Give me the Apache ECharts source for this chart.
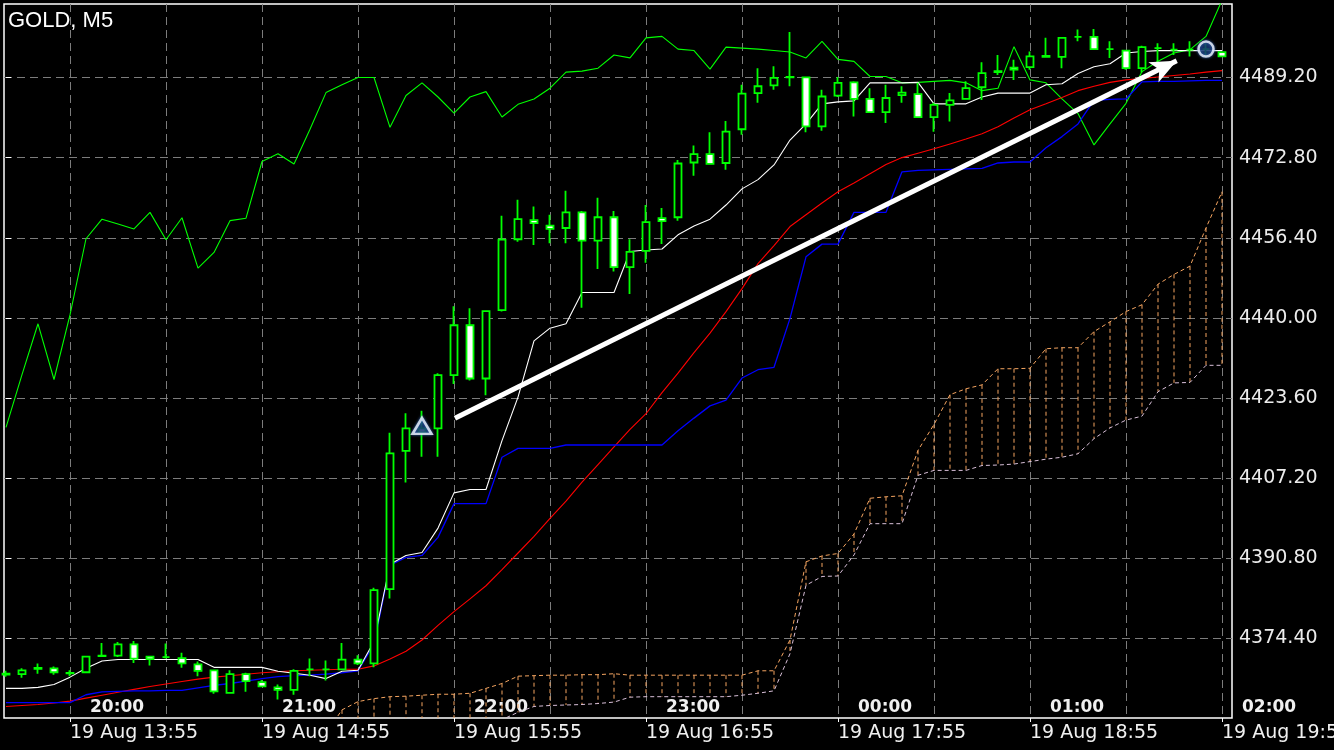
<!DOCTYPE html>
<html>
<head>
<meta charset="utf-8">
<script src="https://cdn.jsdelivr.net/npm/echarts@6/dist/echarts.min.js"></script>
<style>
html,body{margin:0;padding:0;background:#000;}
#chart{width:1334px;height:750px;}
</style>
</head>
<body>
<div id="chart"></div>
<script>
// ---- data (index = candle number, M5 bars) ----
const opens = [4367.2,4367.1,4368.2,4368.3,4367.35,4367.5,4370.8,4370.9,4373.2,4370.7,4370.6,4370.4,4369.1,4367.9,4363.3,4367.1,4365.5,4364.4,4363.9,4368.1,4368.1,4368.1,4370.1,4369.3,4384.5,4412.8,4417.4,4417.4,4428.3,4438.5,4427.6,4441.6,4456.1,4460.0,4458.9,4458.4,4461.6,4455.8,4460.6,4450.4,4453.7,4460.4,4460.6,4471.8,4473.5,4471.7,4478.6,4486.0,4487.6,4489.3,4489.2,4479.2,4485.5,4488.2,4484.8,4482.1,4485.6,4485.8,4481.1,4483.6,4484.8,4487.2,4490.5,4491.2,4491.3,4493.6,4493.4,4497.5,4497.5,4495.0,4494.7,4491.1,4495.2,4494.9,4494.9,4495.0,4494.4];
const closes = [4367.0,4367.9,4368.4,4367.5,4367.3,4370.7,4370.9,4373.2,4370.3,4370.2,4370.6,4369.3,4367.8,4363.6,4367.1,4365.7,4364.6,4363.9,4367.8,4368.1,4368.1,4370.1,4369.3,4384.3,4412.3,4417.4,4416.6,4428.3,4438.5,4427.6,4441.4,4456.0,4460.2,4459.4,4458.2,4461.6,4455.8,4460.6,4450.4,4453.5,4459.6,4459.8,4471.6,4473.5,4471.5,4478.1,4485.9,4487.4,4489.1,4489.2,4479.2,4485.3,4488.1,4484.8,4482.1,4485.0,4486.1,4481.1,4483.6,4484.5,4487.0,4490.1,4490.3,4490.8,4493.5,4493.4,4497.3,4497.5,4495.0,4495.0,4491.1,4495.4,4495.2,4494.9,4494.9,4495.0,4493.5];
const lows = [4366.6,4366.4,4367.2,4367.0,4366.7,4367.4,4370.6,4370.6,4369.4,4368.9,4370.3,4368.4,4366.7,4363.1,4363.3,4363.5,4364.5,4361.9,4362.9,4366.7,4365.8,4368.0,4369.0,4368.5,4382.6,4406.3,4411.6,4411.6,4426.5,4427.2,4424.2,4441.3,4455.6,4454.9,4455.3,4455.3,4442.1,4450.0,4449.5,4444.9,4451.3,4455.1,4459.9,4469.1,4471.4,4470.3,4477.5,4484.0,4486.7,4487.4,4478.0,4478.3,4485.2,4481.2,4482.0,4479.9,4484.0,4481.0,4478.1,4480.2,4484.7,4484.6,4489.7,4488.7,4490.8,4493.3,4491.1,4496.6,4495.0,4493.2,4490.8,4490.2,4492.1,4493.8,4493.5,4493.5,4493.5];
const highs = [4367.8,4368.3,4369.3,4368.7,4367.9,4370.8,4373.5,4373.7,4373.9,4370.9,4373.4,4371.5,4369.7,4368.0,4367.9,4367.4,4365.9,4365.0,4368.1,4370.3,4369.9,4373.5,4371.0,4384.8,4416.5,4420.5,4421.0,4428.7,4442.4,4442.0,4441.5,4460.9,4464.2,4462.8,4461.1,4466.0,4461.9,4464.6,4461.9,4456.1,4463.1,4462.5,4472.3,4475.3,4478.0,4480.3,4487.7,4491.1,4491.5,4498.5,4489.3,4486.7,4489.3,4488.4,4487.0,4487.7,4487.4,4488.1,4484.0,4486.0,4488.4,4492.3,4493.8,4492.8,4494.5,4497.3,4497.4,4499.0,4499.1,4496.6,4494.8,4495.7,4496.2,4496.2,4496.6,4496.2,4494.4];

const whiteLine = [4364.2,4364.2,4364.4,4365.0,4366.5,4368.3,4369.8,4370.1,4370.1,4370.1,4370.1,4370.1,4370.1,4368.5,4368.5,4368.5,4368.5,4367.7,4367.3,4366.9,4366.2,4367.7,4367.9,4373.8,4389.6,4391.4,4392.0,4397.0,4404.2,4404.9,4404.9,4414.9,4423.8,4435.3,4437.9,4438.8,4445.2,4445.2,4445.2,4453.6,4453.9,4454.1,4457.0,4458.8,4460.2,4463.1,4466.4,4468.3,4471.3,4476.4,4479.7,4483.8,4484.2,4484.4,4488.1,4488.1,4488.1,4488.2,4483.8,4483.8,4483.8,4485.2,4486.0,4486.0,4486.0,4487.7,4487.9,4490.0,4491.4,4492.0,4494.2,4494.5,4494.7,4494.7,4494.7,4494.7,4494.7];
const blueLine = [4361.3,4361.3,4361.3,4361.3,4361.3,4362.9,4363.5,4363.6,4363.7,4363.7,4363.8,4363.8,4364.3,4364.8,4365.2,4365.7,4366.2,4366.6,4366.8,4366.9,4367.1,4367.4,4367.8,4373.2,4389.4,4391.0,4391.4,4395.1,4402.0,4402.0,4402.0,4411.5,4413.3,4413.3,4413.3,4414.0,4414.0,4414.0,4414.0,4414.0,4414.0,4414.0,4416.9,4419.5,4422.0,4423.2,4427.7,4429.4,4429.9,4439.9,4452.5,4455.1,4455.1,4461.6,4461.6,4461.6,4469.9,4470.2,4470.3,4470.4,4470.5,4470.6,4471.7,4471.9,4471.9,4474.8,4477.1,4479.7,4484.5,4484.7,4484.8,4488.3,4488.4,4488.4,4488.5,4488.6,4488.6];
const redLine = [4360.5,4360.7,4360.9,4361.2,4361.6,4362.2,4362.8,4363.4,4364.0,4364.6,4365.1,4365.6,4366.1,4366.5,4366.8,4367.1,4367.4,4367.6,4367.8,4367.9,4368.0,4368.1,4368.1,4368.8,4370.2,4371.8,4374.1,4377.1,4379.9,4382.5,4385.2,4388.5,4391.9,4395.3,4399.0,4402.5,4406.4,4410.0,4413.6,4417.2,4420.4,4424.7,4428.7,4432.9,4436.9,4441.3,4446.0,4451.1,4454.8,4458.7,4461.1,4463.5,4465.8,4467.6,4469.5,4471.4,4472.8,4473.7,4474.6,4475.6,4476.6,4477.7,4479.1,4480.9,4482.6,4483.8,4485.1,4486.5,4487.4,4488.2,4488.7,4489.0,4489.3,4489.6,4489.9,4490.3,4490.6];
const greenLine = [4417.6,4428.4,4438.8,4427.4,4440.6,4456.2,4460.2,4459.2,4458.2,4461.6,4456.0,4460.5,4450.2,4453.4,4459.9,4460.4,4472.0,4473.6,4471.5,4478.6,4486.1,4487.7,4489.2,4489.2,4479.0,4485.5,4488.1,4485.2,4481.9,4485.2,4486.3,4481.1,4483.7,4484.8,4487.0,4490.3,4490.5,4491.1,4493.8,4493.2,4497.3,4497.6,4495.0,4494.7,4490.9,4495.4,4495.2,4495.0,4494.7,4494.4,4493.2,4496.6,4492.9,4492.5,4489.4,4489.4,4488.1,4488.2,4488.4,4488.6,4488.1,4486.5,4487.0,4495.5,4488.7,4488.1,4484.8,4481.8,4475.4,4479.7,4483.9,4490.4,4492.5,4494.2,4494.9,4497.6,4505.0];

// Cloud spans start at candle 20
const cloudStart = 20;
const spanA = [4355.0,4359.8,4361.5,4362.1,4362.5,4362.6,4362.8,4363.0,4363.0,4363.2,4364.2,4365.2,4366.7,4366.8,4366.9,4366.9,4367.0,4367.0,4367.2,4366.9,4366.9,4366.9,4366.9,4366.9,4366.9,4366.9,4366.9,4367.8,4367.8,4374.1,4390.1,4391.3,4391.8,4395.8,4403.1,4403.4,4403.6,4412.9,4418.2,4424.3,4425.5,4426.3,4429.6,4429.6,4429.7,4433.7,4433.9,4433.9,4437.2,4439.2,4441.3,4442.7,4446.9,4448.9,4450.6,4458.4,4465.8];
const spanB = [4354.0,4354.5,4355.0,4355.3,4355.6,4355.8,4356.0,4356.2,4356.4,4356.6,4357.0,4357.8,4359.3,4360.5,4360.7,4360.8,4360.9,4361.1,4361.4,4362.4,4362.5,4362.5,4362.5,4362.5,4362.5,4362.5,4362.8,4363.2,4363.7,4371.3,4385.3,4387.1,4387.2,4391.5,4397.9,4397.9,4397.9,4407.8,4408.8,4408.8,4408.8,4409.8,4409.9,4410.1,4410.6,4411.1,4411.5,4412.2,4415.3,4417.5,4419.1,4419.9,4424.9,4426.7,4426.8,4430.3,4430.3];

const buySignal = [26, 4417.9];
const closeSignal = [75, 4495.0];
const trendArrow = [[28.06, 4419.45], [73.17, 4492.6]];

const priceTicks = [4374.4, 4390.8, 4407.2, 4423.6, 4440.0, 4456.4, 4472.8, 4489.2];
const gridIdx = [4,10,16,22,28,34,40,46,52,58,64,70,76];
const labelIdx = [4,16,28,40,52,64,76];
const dateLabels = ['19 Aug 13:55','19 Aug 14:55','19 Aug 15:55','19 Aug 16:55','19 Aug 17:55','19 Aug 18:55','19 Aug 19:55'];
const hourLabels = ['20:00','21:00','22:00','23:00','00:00','01:00','02:00'];

// ---- build series data ----
const candleData = opens.map((o, i) => [i, o, closes[i], lows[i], highs[i]]);
const toXY = arr => arr.map((v, i) => [i, v]);
const aData = spanA.map((v, k) => [k + cloudStart, v]);
const bData = spanB.map((v, k) => [k + cloudStart, v]);
const hatchData = spanA.map((v, k) => [k + cloudStart, v, spanB[k]]);

const chart = echarts.init(document.getElementById('chart'));
const gridStyle = {color: '#7c7c7c', width: 1, type: [8, 5]};
const lookup = (labels) => (v) => { const k = labelIdx.indexOf(Math.round(v)); return k >= 0 ? labels[k] : ''; };

chart.setOption({
  animation: false,
  backgroundColor: '#000000',
  title: {
    text: 'GOLD, M5', left: 3, top: 5,
    textStyle: {color: '#ffffff', fontSize: 22, fontWeight: 'normal', fontFamily: 'Liberation Sans'}
  },
  grid: {left: 4, right: 102, top: 4, bottom: 32, show: true, borderColor: '#ffffff', borderWidth: 1.5,
         containLabel: false, outerBoundsMode: 'none'},
  xAxis: [
    {
      type: 'value', min: -0.125, max: 76.625,
      axisLine: {show: false},
      axisTick: {show: true, customValues: labelIdx, length: 4, lineStyle: {color: '#ffffff'}},
      splitLine: {show: false},
      axisLabel: {
        customValues: labelIdx, formatter: lookup(dateLabels), align: 'left', margin: 6,
        color: '#f0f0f0', fontSize: 19, fontFamily: 'DejaVu Sans'
      }
    },
    {
      type: 'value', min: -0.125, max: 76.625, position: 'bottom',
      axisLine: {show: false},
      axisTick: {show: false, customValues: gridIdx},
      splitLine: {show: true, lineStyle: gridStyle},
      axisLabel: {
        inside: true, customValues: labelIdx, formatter: lookup(hourLabels), align: 'left',
        padding: [0, 0, 0, 20], margin: 2,
        color: '#f0f0f0', fontSize: 17, fontWeight: 'bold', fontFamily: 'DejaVu Sans'
      }
    }
  ],
  yAxis: {
    type: 'value', position: 'right', min: 4358.14, max: 4504.23, scale: true,
    axisLine: {show: false},
    axisTick: {show: true, customValues: priceTicks, length: 5, lineStyle: {color: '#ffffff'}},
    splitLine: {show: true, lineStyle: gridStyle},
    axisLabel: {
      customValues: priceTicks, formatter: v => v.toFixed(2), margin: 7,
      color: '#ececec', fontSize: 19, fontFamily: 'DejaVu Sans'
    }
  },
  series: [
    {
      type: 'custom', name: 'cloud', xAxisIndex: 0, z: 1,
      data: hatchData, encode: {x: 0, y: [1, 2]},
      renderItem: function (params, api) {
        const x = api.value(0);
        const p1 = api.coord([x, api.value(1)]);
        const p2 = api.coord([x, api.value(2)]);
        const cs = params.coordSys;
        const top = cs.y, bot = cs.y + cs.height;
        const y1 = Math.min(Math.max(p1[1], top), bot);
        const y2 = Math.min(Math.max(p2[1], top), bot);
        if (Math.abs(y1 - y2) < 0.5) return null;
        return {type: 'line', shape: {x1: p1[0], y1: y1, x2: p1[0], y2: y2},
                style: {stroke: '#f4a460', lineWidth: 1, lineDash: [4, 3]}};
      }
    },
    {type: 'line', name: 'Senkou A', data: aData, symbol: 'none', z: 1,
     lineStyle: {color: '#f4a460', width: 1, type: [4, 3]}},
    {type: 'line', name: 'Senkou B', data: bData, symbol: 'none', z: 1,
     lineStyle: {color: '#d8bfd8', width: 1, type: [4, 3]}},
    {type: 'line', name: 'green', data: toXY(greenLine), symbol: 'none', z: 2,
     lineStyle: {color: '#00ff00', width: 1.1}},
    {type: 'line', name: 'red', data: toXY(redLine), symbol: 'none', z: 2,
     lineStyle: {color: '#ff0000', width: 1.1}},
    {type: 'line', name: 'blue', data: toXY(blueLine), symbol: 'none', z: 2,
     lineStyle: {color: '#0000ff', width: 1.3}},
    {type: 'line', name: 'white', data: toXY(whiteLine), symbol: 'none', z: 2,
     lineStyle: {color: '#ffffff', width: 1.1}},
    {
      type: 'candlestick', name: 'GOLD', data: candleData, z: 3,
      encode: {x: 0, y: [1, 2, 3, 4]},
      barWidth: 7,
      itemStyle: {color: '#000000', color0: '#ffffff', borderColor: '#00ff00', borderColor0: '#00ff00',
                  borderColorDoji: '#00ff00', borderWidth: 1.8}
    },
    {
      type: 'scatter', name: 'signals', z: 5,
      data: [
        {value: buySignal, symbol: 'triangle', symbolSize: [19, 16]},
        {value: closeSignal, symbol: 'circle', symbolSize: 15}
      ],
      itemStyle: {color: 'rgba(8,34,84,0.8)', borderColor: '#f2f6ff', borderWidth: 2.5,
                  shadowColor: '#3f74c8', shadowBlur: 3},
      markLine: {
        silent: true, z: 6, symbol: ['none', 'arrow'], symbolSize: [17, 26],
        label: {show: false},
        lineStyle: {color: '#ffffff', width: 5, type: 'solid'},
        data: [[{coord: trendArrow[0]}, {coord: trendArrow[1]}]]
      }
    }
  ]
});
</script>
</body>
</html>
